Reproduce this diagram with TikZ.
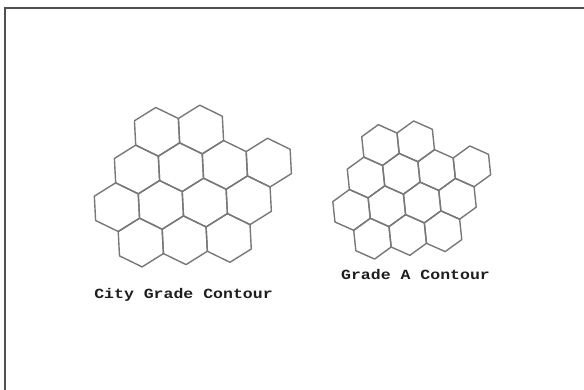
\documentclass[tikz,border=0pt]{standalone}
\usepackage{fontspec}
\newfontfamily\contourfont{Liberation Mono}[FakeStretch=1.18]
\definecolor{hexgray}{RGB}{120,120,120}
\definecolor{framegray}{RGB}{80,80,80}
\definecolor{labelgray}{RGB}{30,30,30}

% one hexagon cell: centre x, centre y, radius
\newcommand{\hexcell}[3]{%
  \draw[hexline] (#1,#2) +(90:#3) -- +(30:#3) -- +(-30:#3) -- +(-90:#3)
    -- +(-150:#3) -- +(150:#3) -- cycle;}

\begin{document}
\begin{tikzpicture}[x=1pt, y=-1pt,
    hexline/.style={draw=hexgray, line width=1.4pt, line join=round},
    contourlabel/.style={anchor=base, text=labelgray, font=\contourfont\bfseries\fontsize{14}{16}\selectfont, inner sep=0pt}]
    \useasboundingbox (0,0) rectangle (584,390);

    % frame (top and left edge only)
    \draw[framegray, line width=2pt] (4.5,390) -- (4.5,8.5) -- (584,8.5);

    % city grade contour cells
    \begin{scope}[shift={(137,169.5)}, rotate=3, yscale=0.96]
        \foreach \i/\j in {1/-1,3/-1,0/0,2/0,4/0,6/0,-1/1,1/1,3/1,5/1,0/2,2/2,4/2}
            \hexcell{\i*0.866*25.4}{\j*1.5*25.4}{25.4};
    \end{scope}

    % grade A contour cells
    \begin{scope}[shift={(366,177.5)}, rotate=6]
        \foreach \i/\j in {1/-1,3/-1,0/0,2/0,4/0,6/0,-1/1,1/1,3/1,5/1,0/2,2/2,4/2}
            \hexcell{\i*0.866*20.5}{\j*1.5*20.5}{20.5};
    \end{scope}

    % labels
    \node[contourlabel] (citylabel) at (183.5,298.5) {City Grade Contour};
    \node[contourlabel] (gradelabel) at (415.5,279.5) {Grade A Contour};
\end{tikzpicture}
\end{document}
